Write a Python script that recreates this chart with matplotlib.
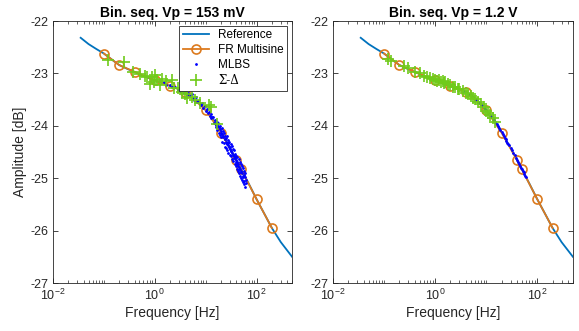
import numpy as np
import matplotlib
matplotlib.use("Agg")
import matplotlib.pyplot as plt
from matplotlib.ticker import LogLocator, NullFormatter

plt.rcParams['font.family'] = ['Liberation Sans', 'DejaVu Sans']

# reference curve
ref_f = [0.035, 0.05, 0.07, 0.1, 0.15, 0.2, 0.3, 0.4, 0.6, 1, 1.5, 2, 3, 4, 6, 8, 10,
         15, 20, 30, 40, 50, 70, 100, 150, 200, 300, 500]
ref_a = [-22.32, -22.44, -22.53, -22.62, -22.75, -22.84, -22.92, -22.97, -23.05, -23.13,
         -23.19, -23.24, -23.30, -23.36, -23.48, -23.59, -23.70, -23.92, -24.12, -24.42,
         -24.65, -24.83, -25.10, -25.40, -25.72, -25.95, -26.22, -26.50]

# FR multisine
ms_f = [0.1, 0.2, 0.4, 1, 2, 4, 10, 20, 40, 50, 100, 200]
ms_a = [-22.62, -22.84, -22.97, -23.13, -23.24, -23.35, -23.70, -24.13, -24.65, -24.83, -25.40, -25.95]

# MLBS, Vp = 153 mV
mlbs1_f = [1.5, 1.7, 2.0, 2.2, 2.5, 2.8, 3.0, 3.2, 3.5, 3.8, 4.0, 4.3, 4.6, 5.0, 5.3, 5.6,
           6.0, 6.4, 6.8, 7.2, 7.6, 8.0, 8.5, 9.0, 9.5, 10, 10.5, 11, 11.5, 12, 12.5, 13,
           13.5,
           14.2, 14.8, 15.3, 15.9, 16.4, 16.8, 17.3, 17.6, 18.1, 18.4, 18.9, 19.2, 19.7, 20.3,
           20.6, 21.0, 21.4, 21.9, 22.3, 22.6, 23.1, 23.5, 23.8, 24.2, 24.7, 25.1, 25.4, 25.9,
           26.3, 26.8, 27.2, 27.7, 28.1, 28.6, 29.2, 29.8, 30.3, 30.9, 31.4, 32.0, 32.6, 33.1,
           33.7, 34.4, 35.0, 35.6, 36.2, 36.9, 37.5, 38.2, 38.8, 39.5, 40.1, 40.8, 41.5, 42.2,
           42.9, 43.6, 44.3, 45.0, 45.8, 46.5, 47.3, 48.0, 48.8, 49.6, 50.4, 51.2, 52.0, 52.9,
           53.7, 54.6, 55.5, 56.4, 57.3, 58.2, 59.1, 60.1, 61.0, 62.0,
           16.1, 19.0, 22.0, 26.0, 30.0, 34.0, 38.0, 44.0, 48.5, 55.0, 24.0, 28.0, 20.0,
           36.0, 42.0, 46.0, 31.0, 53.0, 58.0, 39.0]
mlbs1_a = [-23.17, -23.22, -23.23, -23.26, -23.25, -23.31, -23.28, -23.34, -23.31, -23.38,
           -23.35, -23.41, -23.38, -23.44, -23.40, -23.47, -23.50, -23.45, -23.55, -23.52,
           -23.58, -23.61, -23.57, -23.66, -23.63, -23.72, -23.68, -23.76, -23.73, -23.82,
           -23.77, -23.86, -23.83,
           -23.84, -23.95, -23.88, -24.02, -23.93, -24.08, -24.01, -23.95, -24.13, -24.03,
           -24.18, -24.00, -24.10, -24.22, -24.05, -24.15, -24.30, -24.09, -24.22, -24.33,
           -24.14, -24.26, -24.40, -24.19, -24.30, -24.23, -24.43, -24.33, -24.20, -24.46,
           -24.36, -24.27, -24.52, -24.40, -24.31, -24.55, -24.45, -24.34, -24.58, -24.49,
           -24.39, -24.64, -24.52, -24.45, -24.67, -24.57, -24.47, -24.73, -24.61, -24.53,
           -24.77, -24.66, -24.58, -24.82, -24.69, -24.60, -24.87, -24.73, -24.64, -24.91,
           -24.78, -24.70, -24.96, -24.82, -24.73, -25.00, -24.86, -24.77, -25.04, -24.90,
           -24.81, -25.08, -24.94, -24.86, -25.12, -24.98, -24.91, -25.17, -25.04, -25.10,
           -23.98, -24.07, -24.19, -24.35, -24.40, -24.55, -24.60, -24.77, -24.88, -24.97,
           -24.26, -24.33, -24.14, -24.62, -24.72, -24.82, -24.48, -24.95, -25.05, -24.70]

# MLBS, Vp = 1.2 V
mlbs2_f = [3.5, 4, 4.5, 5, 5.5, 6, 6.5, 7, 7.5, 8, 8.5, 9, 9.5, 10, 11, 12, 13, 14, 15, 16,
           17, 18, 19, 20, 21, 22, 23, 24, 25, 26, 27, 28, 30, 32, 34, 36, 38, 40, 42, 44,
           46, 48, 50, 52, 54, 56, 58, 60]
mlbs2_a = [-23.33, -23.36, -23.39, -23.42, -23.45, -23.48, -23.51, -23.54, -23.57, -23.59,
           -23.62, -23.65, -23.68, -23.70, -23.75, -23.79, -23.84, -23.88, -23.92, -23.96,
           -24.00, -24.04, -24.08, -24.12, -24.16, -24.20, -24.23, -24.26, -24.29, -24.32,
           -24.35, -24.37, -24.42, -24.47, -24.52, -24.56, -24.61, -24.65, -24.69, -24.72,
           -24.76, -24.80, -24.83, -24.86, -24.89, -24.92, -24.95, -24.98]

# Sigma-Delta, Vp = 153 mV
sd1_f = [0.12, 0.245, 0.37, 0.52, 0.63, 0.7, 0.8, 0.88, 0.95, 1.03, 1.1, 1.25, 1.4, 1.66,
         2.2, 2.4, 2.9, 3.5, 4.0, 4.3, 5.4, 6.3, 7.9, 11.5, 12.5, 16.5]
sd1_a = [-22.74, -22.79, -22.97, -23.02, -23.05, -23.07, -23.21, -23.07, -23.16, -23.03,
         -23.12, -23.22, -23.10, -23.15, -23.13, -23.27, -23.27, -23.35, -23.40, -23.46,
         -23.45, -23.51, -23.57, -23.60, -23.64, -23.97]

# Sigma-Delta, Vp = 1.2 V
sd2_f = [0.12, 0.14, 0.25, 0.3, 0.4, 0.5, 0.6, 0.7, 0.8, 0.9, 1.0, 1.1, 1.2, 1.3, 1.4, 1.5,
         1.6, 1.8, 2.0, 2.2, 2.5, 2.8, 3.0, 3.5, 4.0, 4.5, 5, 5.5, 6, 7, 8, 9, 10, 11, 12,
         13.5, 15]
sd2_a = [-22.72, -22.76, -22.86, -22.90, -22.97, -23.00, -23.04, -23.07, -23.08, -23.11,
         -23.12, -23.14, -23.13, -23.16, -23.15, -23.18, -23.17, -23.21, -23.22, -23.25,
         -23.26, -23.29, -23.30, -23.33, -23.37, -23.40, -23.43, -23.46, -23.49, -23.54,
         -23.59, -23.65, -23.71, -23.75, -23.80, -23.85, -23.92]

titles = ["Bin. seq. Vp = 153 mV", "Bin. seq. Vp = 1.2 V"]

c_ref = '#0072BD'
c_ms = '#DC7A1E'
c_sd = '#6FCB1A'
c_ax = '#262626'

fig = plt.figure(figsize=(5.79, 3.31), dpi=100)
ax1 = fig.add_axes([0.0915, 0.145, 0.413, 0.7915])
ax2 = fig.add_axes([0.575, 0.145, 0.4145, 0.7915])

panels = [(ax1, mlbs1_f, mlbs1_a, sd1_f, sd1_a), (ax2, mlbs2_f, mlbs2_a, sd2_f, sd2_a)]
for i, (ax, mf, ma, sf, sa) in enumerate(panels):
    ax.plot(ref_f, ref_a, color=c_ref, lw=1.3, label='Reference', zorder=2)
    ax.plot(ms_f, ms_a, '-o', color=c_ms, lw=1.3, ms=6.5, mfc='none', mew=1.2,
            label='FR Multisine', zorder=3)
    ax.plot(mf, ma, '.', color='b', ms=2, label='MLBS', zorder=4)
    ax.plot(sf, sa, '+', color=c_sd, ms=8, mew=1.2, label='Σ-Δ', zorder=5)
    ax.set_xscale('log')
    ax.set_xlim(1e-2, 500)
    ax.set_ylim(-27, -22)
    ax.set_xticks([1e-2, 1, 1e2])
    ax.xaxis.set_minor_locator(LogLocator(base=10, subs=np.arange(1, 10), numticks=20))
    ax.xaxis.set_minor_formatter(NullFormatter())
    ax.set_yticks([-27, -26, -25, -24, -23, -22])
    ax.set_yticklabels(['-27', '-26', '-25', '-24', '-23', '-22'])
    ax.tick_params(which='both', direction='in', top=True, right=True,
                   colors=c_ax, labelsize=9)
    ax.tick_params(which='major', length=3.5, width=0.6)
    ax.tick_params(which='minor', length=2, width=0.5)
    for s in ax.spines.values():
        s.set_color(c_ax)
        s.set_linewidth(0.6)
    ax.set_xlabel('Frequency [Hz]', fontsize=10, color=c_ax, labelpad=2)
    ax.set_title(titles[i], fontsize=10, fontweight='bold', pad=3)

ax1.set_ylabel('Amplitude [dB]', fontsize=10, color=c_ax, labelpad=2)

leg = ax1.legend(loc='upper right', fontsize=8.5, frameon=True, fancybox=False,
                 edgecolor=c_ax, framealpha=1, borderaxespad=0.4,
                 handlelength=2.2, borderpad=0.3, labelspacing=0.25, markerscale=1)
leg.get_frame().set_linewidth(0.6)
leg.get_texts()[3].set_family('DejaVu Serif')

fig.savefig('out.png', dpi=100)
